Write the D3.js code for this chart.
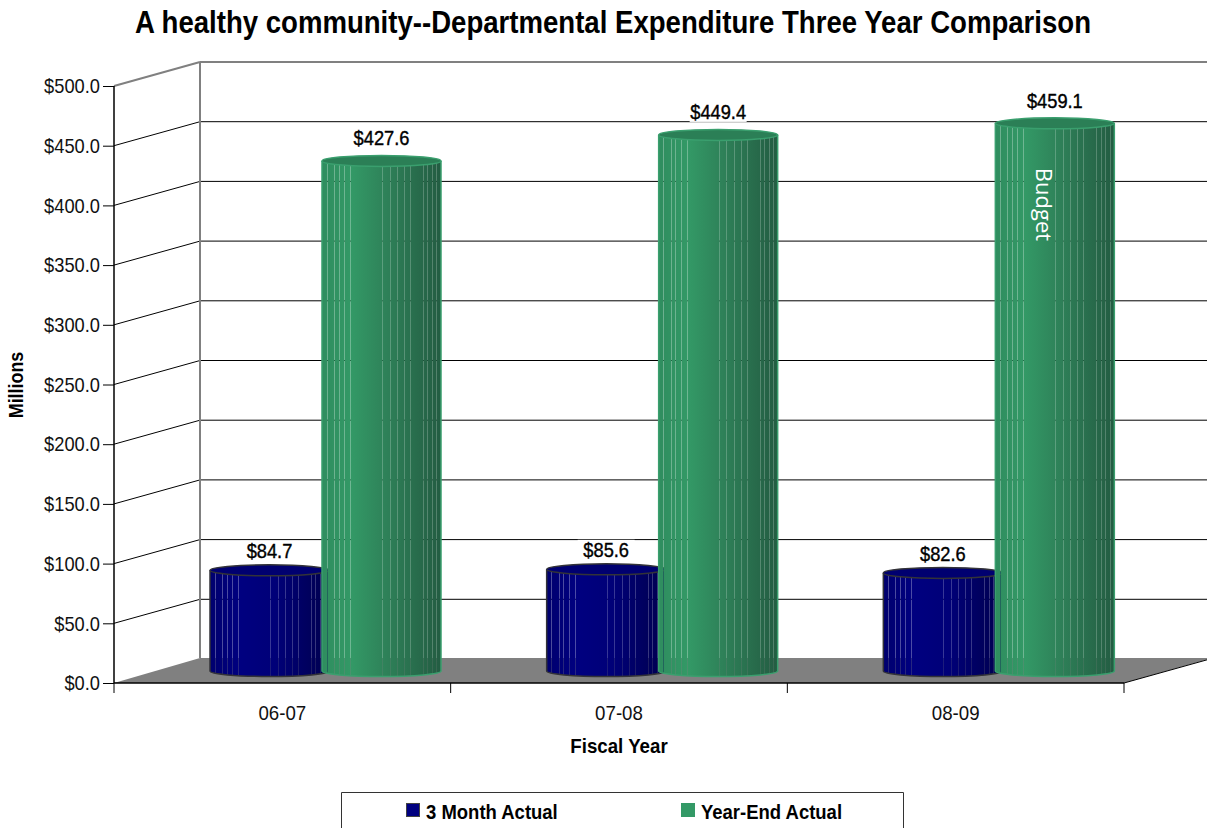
<!DOCTYPE html>
<html>
<head>
<meta charset="utf-8">
<script src="https://d3js.org/d3.v7.min.js"></script>
<style>
    html, body { margin: 0; padding: 0; background: #fff; overflow: hidden; }
    text { font-family: "Liberation Sans", Arial, sans-serif; fill: #000; }
    .axis path { display: none; }
    .axis text { font-size: 21px; fill: #111; }
    .axis line { stroke: #000; }
</style>
</head>
<body>
<svg id="chart" width="1207" height="828"></svg>
<script>
var title = "A healthy community--Departmental Expenditure Three Year Comparison";
var fiscal_years = ["06-07", "07-08", "08-09"];
var series_names = ["3 Month Actual", "Year-End Actual"];
var three_month = [84.7, 85.6, 82.6];
var year_end = [427.6, 449.4, 459.1];
var y_ticks = [0, 50, 100, 150, 200, 250, 300, 350, 400, 450, 500];

var series_values = [three_month, year_end];
var series_colors = [
    {id: "blue", stops: ["#00006e", "#000080", "#000078", "#00004e"], top: "#000070", edge: "#333338", swatch: "#000080", swatch_edge: "#444", label_gap: 19.5},
    {id: "green", stops: ["#2f8d5f", "#339966", "#2e8058", "#235c42"], top: "#2b7f56", edge: "#3a9f6e", swatch: "#339966", swatch_edge: "#339966", label_gap: 23}
];
// where the bright slits of the cylinder facets sit, as a share of the bar width
var slit_offsets = [0.04, 0.1, 0.14, 0.185, 0.235, 0.505, 0.57, 0.63, 0.69, 0.74, 0.85, 0.885, 0.925, 0.96];

var svg = d3.select("#chart");
var defs = svg.append("defs");

var x_left = 114, x_right = 1124, y_bottom = 683, y_top = 86;
var depth_x = 86, depth_y = 24;
var bar_width = 119, bar_ry = 5.5;

var x = d3.scaleBand().domain(fiscal_years).range([x_left, x_right]);
var x_series = d3.scalePoint().domain(series_names).range([96, 208]);
var y = d3.scaleLinear().domain([0, 500]).range([y_bottom, y_top]);

// no narrow font here, so squeeze the regular one to the width of the original
function narrow(sel, ratio) {
    sel.each(function() {
        this.setAttribute("textLength", this.getComputedTextLength() * ratio);
        this.setAttribute("lengthAdjust", "spacingAndGlyphs");
    });
    return sel;
}

// floor
svg.append("polygon")
    .attr("points", [[x_left, y(0)], [x_left + depth_x, y(0) - 25], [1207, y(0) - 25], [1207, y(0) - 23.5], [x_right, y(0)]].join(" "))
    .attr("fill", "#808080");

// back wall grid and the slanted side wall lines
y_ticks.forEach(function(t) {
    var is_top = t === 500;
    var wall_y = y(t) - depth_y;
    if (t > 0) {
        svg.append("line")
            .attr("x1", x_left).attr("y1", y(t))
            .attr("x2", x_left + depth_x).attr("y2", wall_y)
            .attr("stroke", is_top ? "#808080" : "#000")
            .attr("stroke-width", is_top ? 2 : 1);
        svg.append("line")
            .attr("x1", x_left + depth_x).attr("y1", wall_y)
            .attr("x2", 1207).attr("y2", wall_y)
            .attr("stroke", is_top ? "#808080" : "#000")
            .attr("stroke-width", is_top ? 2 : 1);
    }
});
svg.append("line")
    .attr("x1", x_left + depth_x).attr("y1", y(500) - depth_y)
    .attr("x2", x_left + depth_x).attr("y2", y(0) - 25)
    .attr("stroke", "#808080").attr("stroke-width", 2);

// front edges
svg.append("line").attr("x1", x_left).attr("y1", y(0)).attr("x2", x_left).attr("y2", y(500)).attr("stroke", "#000").attr("stroke-width", 1.5);
svg.append("line").attr("x1", x_left).attr("y1", y(0)).attr("x2", x_right).attr("y2", y(0)).attr("stroke", "#000").attr("stroke-width", 1.5);
svg.append("line").attr("x1", x_right).attr("y1", y(0)).attr("x2", x_right + depth_x).attr("y2", y(0) - depth_y).attr("stroke", "#000");

var y_axis = d3.axisLeft(y)
    .tickValues(y_ticks)
    .tickSize(11)
    .tickPadding(3)
    .tickFormat(function(d) { return "$" + d3.format(".1f")(d); });
var y_g = svg.append("g").attr("class", "axis").attr("transform", "translate(" + x_left + ",0)").call(y_axis);
narrow(y_g.selectAll("text"), 0.87);

var x_axis = d3.axisBottom(x).tickSize(0).tickPadding(22);
var x_g = svg.append("g").attr("class", "axis").attr("transform", "translate(0," + y(0) + ")").call(x_axis);
narrow(x_g.selectAll("text"), 0.89);

// ticks sit on the category edges, not the centers
fiscal_years.concat([null]).forEach(function(d) {
    var px = d === null ? x_right : x(d);
    svg.append("line").attr("x1", px).attr("x2", px).attr("y1", y(0)).attr("y2", y(0) + 10).attr("stroke", "#000");
});

series_colors.forEach(function(c) {
    var grad = defs.append("linearGradient").attr("id", "body-" + c.id);
    [0, 0.25, 0.55, 1].forEach(function(o, i) {
        grad.append("stop").attr("offset", o).attr("stop-color", c.stops[i]);
    });
});

var bar_labels = [];

function draw_bar(cat, s_idx, cat_idx) {
    var color = series_colors[s_idx];
    var value = series_values[s_idx][cat_idx];
    var left = x(cat) + x_series(series_names[s_idx]);
    var base = y(0) - depth_y / 2;
    var top = y(value) - depth_y / 2 + 0.5;
    var mask_id = "slits-" + s_idx + "-" + cat_idx;

    var mask = defs.append("mask").attr("id", mask_id).attr("maskUnits", "userSpaceOnUse")
        .attr("x", left - 3).attr("y", top - 10).attr("width", bar_width + 6).attr("height", base - top + 24);
    mask.append("rect").attr("x", left - 3).attr("y", top - 10).attr("width", bar_width + 6).attr("height", base - top + 24).attr("fill", "#fff");
    slit_offsets.forEach(function(o, i) {
        // the slits fade out a little towards the shaded side
        mask.append("rect")
            .attr("x", Math.round(left + o * bar_width)).attr("y", top)
            .attr("width", 1).attr("height", base - top + 10)
            .attr("fill", i < 5 ? "#b4b4b4" : "#c8c8c8");
    });

    var g = svg.append("g");
    g.append("path")
        .attr("d", "M" + left + "," + top + "L" + left + "," + base +
            "A" + bar_width / 2 + "," + bar_ry + " 0 0 0 " + (left + bar_width) + "," + base +
            "L" + (left + bar_width) + "," + top + "Z")
        .attr("fill", "url(#body-" + color.id + ")")
        .attr("mask", "url(#" + mask_id + ")");
    g.append("path")
        .attr("d", "M" + left + "," + top + "L" + left + "," + base +
            "A" + bar_width / 2 + "," + bar_ry + " 0 0 0 " + (left + bar_width) + "," + base +
            "L" + (left + bar_width) + "," + top)
        .attr("fill", "none")
        .attr("stroke", color.edge)
        .attr("stroke-width", 1.5);
    g.append("ellipse")
        .attr("cx", left + bar_width / 2).attr("cy", top)
        .attr("rx", bar_width / 2).attr("ry", bar_ry)
        .attr("fill", color.top)
        .attr("stroke", color.edge)
        .attr("stroke-width", 1.5);

    bar_labels.push({x: left + bar_width / 2, y: top - color.label_gap, text: "$" + d3.format(".1f")(value)});
}

fiscal_years.forEach(function(cat, i) {
    draw_bar(cat, 0, i);
    draw_bar(cat, 1, i);
});

// value labels knock the grid lines out behind them
bar_labels.forEach(function(d) {
    var g = svg.append("g").attr("transform", "translate(" + d.x + "," + d.y + ")");
    g.append("rect").attr("x", -28.5).attr("y", -10).attr("width", 57).attr("height", 20).attr("fill", "#fff");
    var label = g.append("text")
        .attr("text-anchor", "middle").attr("dy", "0.35em")
        .style("font-size", "21px")
        .style("paint-order", "stroke").style("stroke", "#000").style("stroke-width", "0.4px")
        .text(d.text);
    narrow(label, 0.87);
});

var last_bar = bar_labels[bar_labels.length - 1];
svg.append("text")
    .attr("transform", "translate(" + (last_bar.x - 19) + ",204.5) rotate(90)")
    .attr("text-anchor", "middle")
    .style("font-family", "'Open Sans', sans-serif")
    .style("font-size", "22px")
    .style("fill", "#fff")
    .text("Budget");

// scaled rather than narrow(): the long title overruns the page box otherwise
svg.append("text")
    .attr("transform", "translate(613,33) scale(0.862,1)")
    .attr("text-anchor", "middle")
    .style("font-size", "32px").style("font-weight", "bold")
    .text(title);

narrow(svg.append("text")
    .attr("x", 619).attr("y", 753)
    .attr("text-anchor", "middle")
    .style("font-size", "21px").style("font-weight", "bold")
    .text("Fiscal Year"), 0.89);

narrow(svg.append("text")
    .attr("transform", "translate(23,385) rotate(-90)")
    .attr("text-anchor", "middle")
    .style("font-size", "21px").style("font-weight", "bold")
    .text("Millions"), 0.85);

// legend, its box runs off the bottom of the picture
svg.append("path")
    .attr("d", "M341.5,828V792.5H903.5V828")
    .attr("fill", "none").attr("stroke", "#333");

var legend_x = d3.scalePoint().domain(series_names).range([406, 681]);
series_names.forEach(function(name, i) {
    var c = series_colors[i];
    svg.append("rect")
        .attr("x", legend_x(name) + 0.5).attr("y", 803.5)
        .attr("width", 13).attr("height", 13)
        .attr("fill", c.swatch).attr("stroke", c.swatch_edge);
    narrow(svg.append("text")
        .attr("x", legend_x(name) + 20).attr("y", 819)
        .style("font-size", "21px").style("font-weight", "bold")
        .text(name), 0.88);
});
</script>
</body>
</html>
